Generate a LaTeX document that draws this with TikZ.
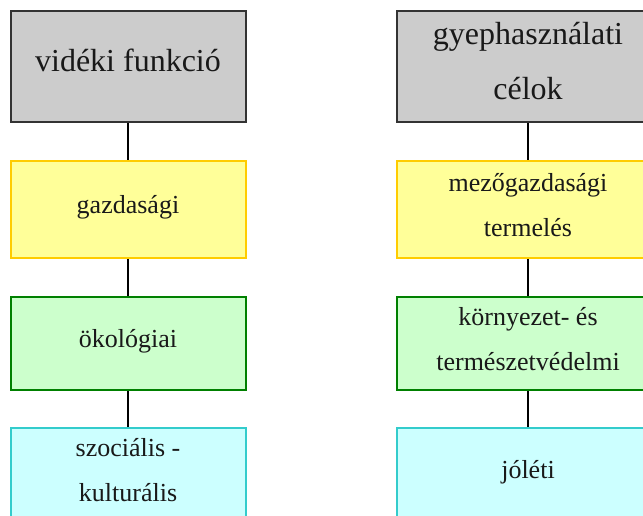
\documentclass[tikz,border=0pt]{standalone}
\usepackage{fontspec}
\setmainfont{Liberation Serif}
\usepackage{xcolor}
\usepackage{tikz}
\usetikzlibrary{shapes}
\definecolor{cimfill}{HTML}{CCCCCC}
\definecolor{cimdraw}{HTML}{333333}
\definecolor{gazfill}{HTML}{FFFF99}
\definecolor{gazdraw}{HTML}{FFCC00}
\definecolor{okofill}{HTML}{CCFFCC}
\definecolor{okodraw}{HTML}{008000}
\definecolor{szofill}{HTML}{CCFFFF}
\definecolor{szodraw}{HTML}{33CCCC}
\tikzstyle{blk}=[rectangle, draw, line width=2pt, align=center, inner sep=0pt,% a plain box
text=black!90]
\tikzstyle{cim}=[blk, fill=cimfill, draw=cimdraw, minimum height=111pt,
font=\fontsize{32}{55}\selectfont, execute at end node={\rule[-12pt]{0pt}{0pt}}]
\tikzstyle{kis}=[blk, font=\fontsize{26}{45}\selectfont,
execute at end node={\rule[-10pt]{0pt}{0pt}}]
\tikzstyle{gaz}=[kis, fill=gazfill, draw=gazdraw, minimum height=97pt]
\tikzstyle{oko}=[kis, fill=okofill, draw=okodraw, minimum height=93pt]
\tikzstyle{szo}=[kis, fill=szofill, draw=szodraw, minimum height=93pt]
\tikzstyle{bal}=[minimum width=235pt]
\tikzstyle{jobb}=[minimum width=262pt]
\tikzstyle{kapcs}=[-, line width=1.5pt, black]

\begin{document}
\begin{tikzpicture}[x=1pt,y=-1pt,kapcs]
\useasboundingbox (0,0) rectangle (643,516);
\clip (0,0) rectangle (643,516);
\node[cim,bal] (l1) at (128,66.5) {vidéki funkció};
\node[gaz,bal] (l2) at (128,209.5) {gazdasági};
\node[oko,bal] (l3) at (128,343.5) {ökológiai};
\node[szo,bal] (l4) at (128,474.5) {szociális -\\kulturális};
\node[cim,jobb] (r1) at (528,66.5) {gyephasználati\\célok};
\node[gaz,jobb] (r2) at (528,209.5) {mezőgazdasági\\termelés};
\node[oko,jobb] (r3) at (528,343.5) {környezet- és\\természetvédelmi};
\node[szo,jobb] (r4) at (528,474.5) {jóléti};
\draw(l1) -- (l2);
\draw(l2) -- (l3);
\draw(l3) -- (l4);
\draw(r1) -- (r2);
\draw(r2) -- (r3);
\draw(r3) -- (r4);
\end{tikzpicture}
\end{document}
